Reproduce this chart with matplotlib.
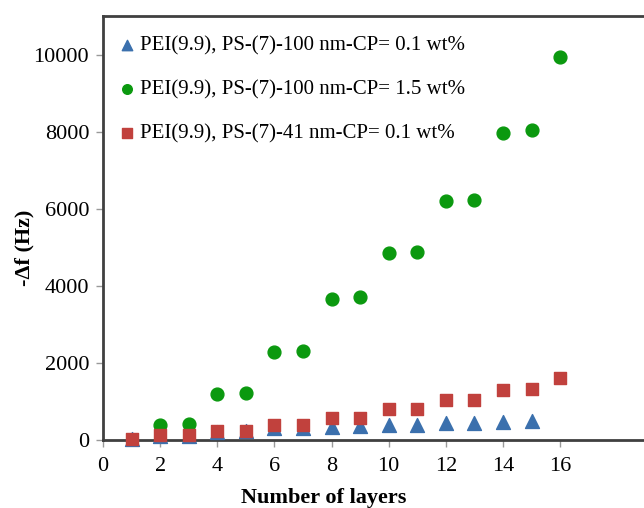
import matplotlib
matplotlib.use("Agg")
import matplotlib.pyplot as plt

# layers and -delta f (Hz)
layers = [1, 2, 3, 4, 5, 6, 7, 8, 9, 10, 11, 12, 13, 14, 15, 16]
layers_blue = layers[:15]
df_100nm_01 = [20, 110, 110, 210, 230, 310, 320, 340, 350, 380, 390, 430, 440, 470, 490]
df_100nm_15 = [None, 400, 420, 1180, 1220, 2270, 2320, 3650, 3720, 4850, 4880,
               6200, 6230, 7980, 8050, 9930]
df_41nm_01 = [20, 120, 120, 230, 230, 400, 400, 580, 580, 800, 800,
              1040, 1040, 1300, 1320, 1620]
labels = ["PEI(9.9), PS-(7)-100 nm-CP= 0.1 wt%",
          "PEI(9.9), PS-(7)-100 nm-CP= 1.5 wt%",
          "PEI(9.9), PS-(7)-41 nm-CP= 0.1 wt%"]
xticks = [0, 2, 4, 6, 8, 10, 12, 14, 16]
yticks = [0, 2000, 4000, 6000, 8000, 10000]

plt.rcParams['font.family'] = ['Liberation Serif', 'DejaVu Serif']

fig = plt.figure(figsize=(6.44, 5.08), dpi=100)
ax = fig.add_axes([0.160, 0.134, 0.845, 0.834])

gx = [x for x, v in zip(layers, df_100nm_15) if v is not None]
gy = [v for v in df_100nm_15 if v is not None]

h1 = ax.scatter(layers_blue, df_100nm_01, marker='^', s=100, color='#3b70ad',
                zorder=3, clip_on=False)
h2 = ax.scatter(gx, gy, marker='o', s=85, color='#0b990f', zorder=3, clip_on=False)
h3 = ax.scatter(layers, df_41nm_01, marker='s', s=80, color='#c1413d',
                zorder=4, clip_on=False)

ax.set_xlim(0, 19.05)
ax.set_ylim(0, 11000)
ax.set_xticks(xticks)
ax.set_yticks(yticks)
ax.tick_params(axis='both', labelsize=16, color='#999999', length=5, width=1)
ax.tick_params(axis='x', pad=7)
ax.tick_params(axis='y', pad=5)

for side in ['left', 'bottom', 'top']:
    ax.spines[side].set_linewidth(2)
    ax.spines[side].set_color('#404040')
    ax.spines[side].set_zorder(2)
ax.spines['right'].set_visible(False)

ax.set_xlabel("Number of layers", fontsize=16, fontweight='bold')
ax.set_ylabel("-\u0394f (Hz)", fontsize=16, fontweight='bold')
ax.xaxis.set_label_coords(0.405, -0.113)
ax.yaxis.set_label_coords(-0.126, 0.453)

ax.legend([h1, h2, h3], labels, loc='upper left', bbox_to_anchor=(0.029, 0.954),
          frameon=False, fontsize=15, handlelength=0.8, handletextpad=0.2,
          labelspacing=1.18, markerscale=0.75, borderpad=0, borderaxespad=0)

fig.savefig("out.png", dpi=100)
